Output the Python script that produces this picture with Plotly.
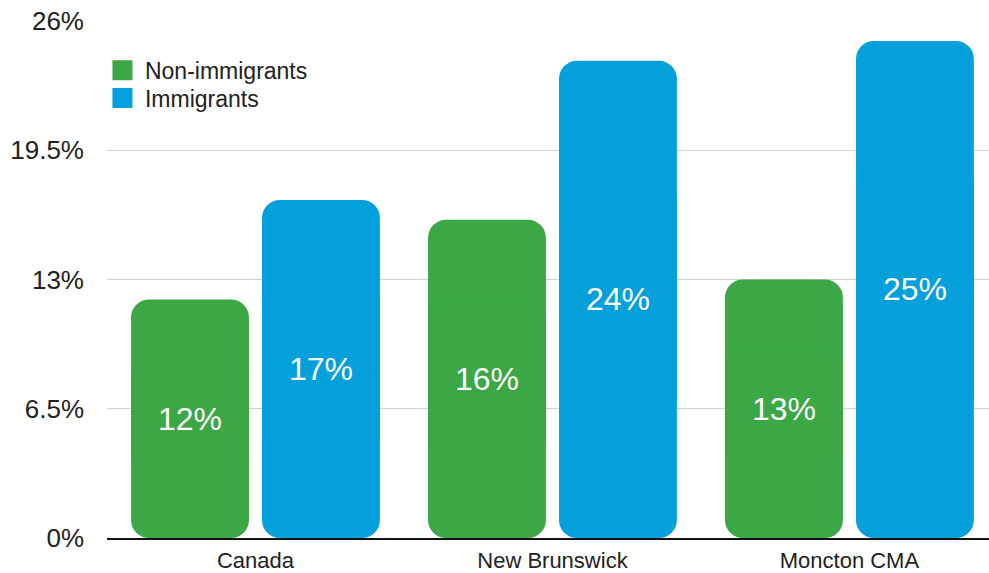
import numpy as np
import plotly.graph_objects as go

# Share of population (%) by region and immigrant status
regions = ["Canada", "New Brunswick", "Moncton CMA"]
non_immigrants = [12, 16, 13]
immigrants = [17, 24, 25]
y_ticks = [0, 6.5, 13, 19.5, 26]
y_tick_labels = ["0%", "6.5%", "13%", "19.5%", "26%"]

GREEN = "#3ba845"
BLUE = "#03a0db"
FONT = "Liberation Sans, Arial, Helvetica, sans-serif"
BAR_W = 0.397
OFFSETS = {"green": -0.419, "blue": 0.022}
RADIUS = 18

fig = go.Figure()


def add_rounded_bar(values, color, offset, name):
    """Bar rounded on both ends: an upper piece rounded at its tip and a
    lower piece drawn downward from above so its tip rounds the bottom."""
    v = np.asarray(values, dtype=float)
    common = dict(x=regions, width=BAR_W, offset=offset,
                  marker=dict(color=color, cornerradius=RADIUS, line=dict(width=0)),
                  showlegend=False, hoverinfo="skip", name=name)
    fig.add_trace(go.Bar(y=v * 0.75, base=v * 0.25, **common))
    fig.add_trace(go.Bar(y=-v * 0.75, base=v * 0.75, **common))


def add_labels(values, offset):
    fig.add_trace(go.Bar(
        x=regions, y=values, width=BAR_W, offset=offset,
        marker=dict(color="rgba(0,0,0,0)", line=dict(width=0)),
        text=[f"{v}%" for v in values], textposition="inside",
        insidetextanchor="middle", constraintext="none",
        insidetextfont=dict(family=FONT, size=32, color="white"),
        showlegend=False, hoverinfo="skip",
    ))


add_rounded_bar(non_immigrants, GREEN, OFFSETS["green"], "Non-immigrants")
add_rounded_bar(immigrants, BLUE, OFFSETS["blue"], "Immigrants")
add_labels(non_immigrants, OFFSETS["green"])
add_labels(immigrants, OFFSETS["blue"])

# Legend entries with large square swatches, one legend box per entry
for name, color, legend_id in [("Non-immigrants", GREEN, "legend"),
                               ("Immigrants", BLUE, "legend2")]:
    fig.add_trace(go.Scatter(
        x=[None], y=[None], mode="markers", name=name, legend=legend_id,
        marker=dict(symbol="square", size=16, color=color,
                    line=dict(color=color, width=4)),
    ))

legend_style = dict(x=-0.008, xanchor="left", yanchor="top", itemwidth=35,
                    font=dict(size=23, color="#222222"),
                    bgcolor="rgba(0,0,0,0)")

fig.update_layout(
    width=989, height=573,
    margin=dict(l=107, r=0, t=21, b=35),
    barmode="overlay",
    plot_bgcolor="white", paper_bgcolor="white",
    font=dict(family=FONT, color="#222222"),
    legend=dict(y=0.946, **legend_style),
    legend2=dict(y=0.8925, **legend_style),
    xaxis=dict(type="category", range=[-0.5, 2.47], showgrid=False,
               showline=True, linecolor="#111111", linewidth=1.5,
               ticks="", ticklabelstandoff=2, automargin=False,
               tickfont=dict(size=22, color="#222222"),
               fixedrange=True),
    yaxis=dict(range=[0, 26], tickvals=y_ticks, ticktext=y_tick_labels,
               showgrid=True, gridcolor="#d2d2d2", gridwidth=1,
               zeroline=False, showline=False, ticks="",
               ticklabelstandoff=22, automargin=False,
               tickfont=dict(size=26, color="#222222"), fixedrange=True),
    hovermode=False,
)

fig.write_html("out.html")
